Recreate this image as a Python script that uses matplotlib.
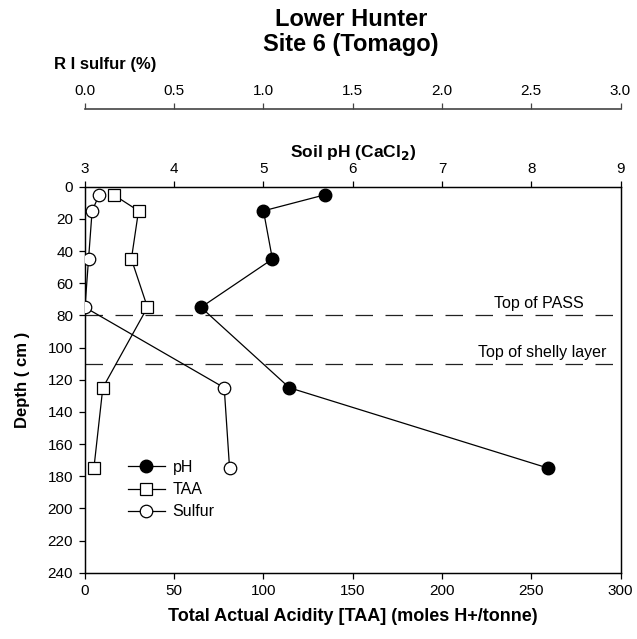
import matplotlib
matplotlib.use('Agg')
import matplotlib.pyplot as plt
from matplotlib.ticker import FormatStrFormatter

plt.rcParams['font.family'] = ['Liberation Sans', 'DejaVu Sans']

# Data
depth = [5, 15, 45, 75, 125, 175]
ph = [5.69, 5.0, 5.1, 4.3, 5.29, 8.19]
taa = [16, 30, 26, 35, 10, 5]
sulfur = [0.08, 0.04, 0.02, 0.0, 0.78, 0.81]

layer_depths = [80, 110]
layer_labels = ['Top of PASS', 'Top of shelly layer']

fig = plt.figure(figsize=(6.37, 6.39), dpi=100)
ax = fig.add_axes([0.1334, 0.1038, 0.8407, 0.604])

# Bottom axis: TAA
line_taa, = ax.plot(taa, depth, color='black', lw=0.9, marker='s', ms=8.5,
                    mfc='white', mec='black', mew=0.9, label='TAA', zorder=3)
ax.set_xlim(0, 300)
ax.set_ylim(240, 0)
ax.set_xticks(range(0, 301, 50))
ax.set_yticks(range(0, 241, 20))
ax.set_xlabel('Total Actual Acidity [TAA] (moles H+/tonne)', fontsize=13,
              fontweight='bold', labelpad=7)
ax.set_ylabel('Depth ( cm )', fontsize=12, fontweight='bold', labelpad=13)
ax.tick_params(direction='out', length=4, width=0.9, labelsize=11, pad=4.5)

# Layer boundaries
for d in layer_depths:
    ax.axhline(d, color='#222222', lw=0.9, linestyle=(0, (14, 10)), zorder=1)
ax.text(254, 72.6, layer_labels[0], ha='center', va='center', fontsize=11.5)
ax.text(256, 103.4, layer_labels[1], ha='center', va='center', fontsize=11.5)

# Top axis: soil pH
ax2 = ax.twiny()
line_ph, = ax2.plot(ph, depth, color='black', lw=0.9, marker='o', ms=9,
                    mfc='black', mec='black', label='pH', zorder=3)
ax2.set_xlim(3, 9)
ax2.set_xticks(range(3, 10))
ax2.set_xlabel('Soil pH (CaCl$_\\mathbf{2}$)', fontsize=12.5, fontweight='bold', labelpad=4)
ax2.tick_params(direction='out', length=4, width=0.9, labelsize=11, pad=3.5)

# Second top axis: R I sulfur
ax3 = ax.twiny()
line_s, = ax3.plot(sulfur, depth, color='black', lw=0.9, marker='o', ms=9,
                   mfc='white', mec='black', mew=0.9, label='Sulfur', zorder=3)
ax3.set_xlim(0, 3)
ax3.set_xticks([0, 0.5, 1.0, 1.5, 2.0, 2.5, 3.0])
ax3.xaxis.set_major_formatter(FormatStrFormatter('%.1f'))
ax3.spines['top'].set_position(('outward', 55.7))
for s in ['left', 'right', 'bottom']:
    ax3.spines[s].set_visible(False)
ax3.spines['top'].set_color('#444444')
ax3.spines['top'].set_linewidth(1.2)
ax3.tick_params(direction='out', length=4, width=0.9, labelsize=11, pad=4,
                color='#444444')

for a in (ax, ax2):
    for s in a.spines.values():
        s.set_linewidth(0.9)

ax3.legend([line_ph, line_taa, line_s], ['pH', 'TAA', 'Sulfur'],
           loc='upper left', bbox_to_anchor=(0.080, 0.292), frameon=False,
           fontsize=11.5, handlelength=2.3, handletextpad=0.5,
           labelspacing=0.45, borderpad=0, borderaxespad=0)

fig.text(0.0848, 1 - 64 / 639, 'R I sulfur (%)', ha='left', va='center',
         fontsize=12, fontweight='bold')
fig.text(0.551, 1 - 19 / 639, 'Lower Hunter', ha='center', va='center',
         fontsize=17, fontweight='bold')
fig.text(0.551, 1 - 45 / 639, 'Site 6 (Tomago)', ha='center', va='center',
         fontsize=17, fontweight='bold')

fig.savefig('out.png', dpi=100)
